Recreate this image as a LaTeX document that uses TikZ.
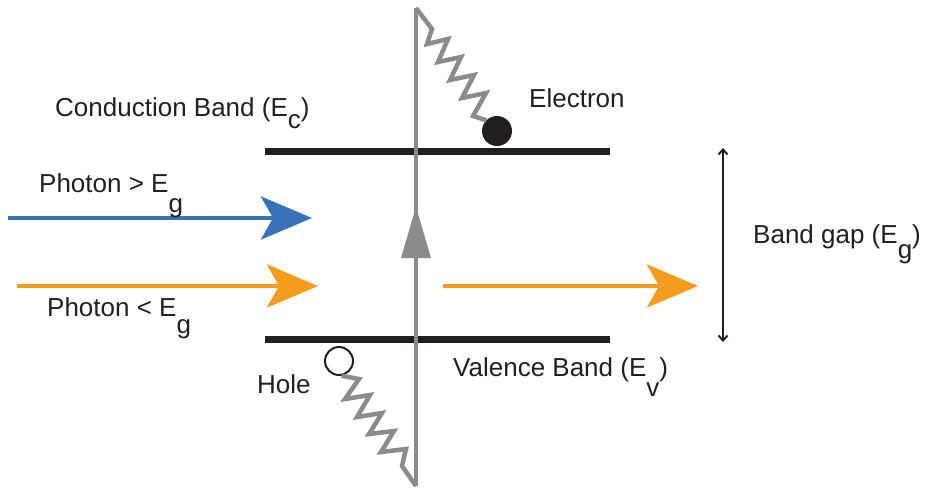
\documentclass[tikz,border=0pt]{standalone}
\usepackage{fontspec}
\setmainfont{Liberation Sans}
\usetikzlibrary{arrows.meta}
\definecolor{cblue}{HTML}{3A72B8}
\definecolor{corange}{HTML}{F59C1F}
\definecolor{cgray}{HTML}{898B8E}
\definecolor{cblack}{HTML}{231F20}
\begin{document}
\begin{tikzpicture}[x=1pt,y=-1pt,
  band/.style={line width=7pt, draw=cblack},
  wave/.style={draw=cgray, line width=4.5pt, miter limit=10},
  lbl/.style={anchor=base west, inner sep=0pt, font=\fontsize{26}{30}\selectfont, text=cblack},
  photon/.style={line width=4.5pt, -{Stealth[length=51pt,width=43pt,inset=12pt]}},
  gap/.style={line width=2pt, draw=cblack, {Straight Barb[length=5pt,width=9pt]}-{Straight Barb[length=5pt,width=9pt]}}
]
\useasboundingbox (0,0) rectangle (926,491);
% bands
\coordinate (cbL) at (265,151);
\coordinate (cbR) at (610,151);
\coordinate (vbL) at (265,339.5);
\coordinate (vbR) at (610,339.5);
\draw[band] (cbL) -- (cbR);
\draw[band] (vbL) -- (vbR);
% circles
\node[circle, fill=cblack, minimum size=30pt, inner sep=0pt] (e) at (497,131) {};
\node[circle, draw=cblack, line width=2pt, minimum size=28pt, inner sep=0pt] (h) at (339,361) {};
% vertical transition line
\coordinate (vtop) at (416,8);
\coordinate (vbot) at (416,486);
\draw[wave] (vbot) -- (vtop);
\fill[cgray] (416,207) -- (431,258) -- (401,258) -- cycle;
% top zigzag
\draw[wave] (vtop) -- (432,29) -- (427,44) -- (448,39) -- (438,62) -- (461,57) -- (450,80) -- (474,75) -- (462,98) -- (486,93) -- (473,116) -- (e.135);
% bottom zigzag
\draw[wave] (h.-80) -- (359,379) -- (345,399) -- (370,395) -- (357,417) -- (382,413) -- (369,434) -- (394,431) -- (381,452) -- (406,449) -- (402,466) -- (vbot);
% photons
\coordinate (p1s) at (8,218);
\coordinate (p1e) at (312,218);
\coordinate (p2s) at (17,286);
\coordinate (p2e) at (318,286);
\coordinate (p3s) at (443,286);
\coordinate (p3e) at (698,286);
\draw[photon, cblue] (p1s) -- (p1e);
\draw[photon, corange] (p2s) -- (p2e);
\draw[photon, corange] (p3s) -- (p3e);
% band gap arrow
\coordinate (gt) at (723,148);
\coordinate (gb) at (723,342);
\draw[gap] (gt) -- (gb);
% labels
\node[lbl] (cbt) at (55,116) {Conduction Band (E\raisebox{-12pt}{c})};
\node[lbl] (elt) at (529,107) {Electron};
\node[lbl] (pgt) at (39,192) {Photon > E\raisebox{-20pt}{g}};
\node[lbl] (plt) at (47,316) {Photon < E\raisebox{-17pt}{g}};
\node[lbl] (bgt) at (753,243) {Band gap (E\raisebox{-15pt}{g})};
\node[lbl] (hot) at (257,393) {Hole};
\node[lbl] (vbt) at (453,376) {Valence Band (E\raisebox{-20pt}{v})};
\end{tikzpicture}
\end{document}
